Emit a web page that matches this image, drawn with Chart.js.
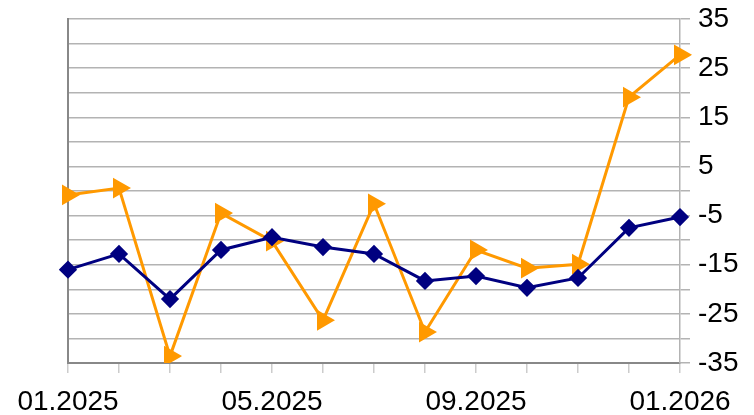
<!DOCTYPE html>
<html>
<head>
<meta charset="utf-8">
<script src="https://cdn.jsdelivr.net/npm/chart.js@4"></script>
<style>
  html, body { margin: 0; padding: 0; background: #fff; }
  #wrap { width: 754px; height: 415px; }
</style>
</head>
<body>
<div id="wrap"><canvas id="chart"></canvas></div>
<script>
const months = ['01.2025', '02.2025', '03.2025', '04.2025', '05.2025', '06.2025', '07.2025',
  '08.2025', '09.2025', '10.2025', '11.2025', '12.2025', '01.2026'];
const navySeries = [-16, -12.8, -22, -12, -9.4, -11.4, -12.8, -18.3, -17.3, -19.7, -17.7, -7.5, -5.3];
const orangeSeries = [-0.8, 0.6, -33.6, -4.5, -10.2, -26.3, -2.6, -28.7, -12, -15.7, -14.9, 19.1, 27.7];
const yLabels = [35, 25, 15, 5, -5, -15, -25, -35];

const font = { family: 'Liberation Sans', size: 28 };

new Chart(document.getElementById('chart'), {
  type: 'line',
  data: {
    labels: months,
    datasets: [
      {
        label: 'Series 1',
        data: navySeries,
        borderColor: '#000080',
        backgroundColor: '#000080',
        borderWidth: 3,
        pointStyle: 'rectRot',
        pointRadius: 7,
        pointHoverRadius: 7,
        tension: 0,
      },
      {
        label: 'Series 2',
        data: orangeSeries,
        borderColor: '#ff9900',
        backgroundColor: '#ff9900',
        borderWidth: 3,
        pointStyle: 'triangle',
        rotation: 90,
        pointRadius: 9,
        pointHoverRadius: 9,
        tension: 0,
      },
    ],
  },
  options: {
    responsive: true,
    maintainAspectRatio: false,
    animation: false,
    layout: { padding: { left: 68, top: 19, right: 0, bottom: 0 } },
    plugins: { legend: { display: false }, tooltip: { enabled: false } },
    scales: {
      x: {
        offset: false,
        grid: { drawOnChartArea: false, drawTicks: true, tickLength: 10, color: '#cccccc', lineWidth: 1.5 },
        border: { display: true, color: '#888888', width: 2 },
        ticks: {
          autoSkip: false,
          maxRotation: 0,
          color: '#000',
          font: font,
          padding: 12,
          callback: (v, i) => (i % 4 === 0 ? months[i] : ''),
        },
        afterFit: (s) => { s.height = 52; s.paddingLeft = 0; s.paddingRight = 0; },
      },
      y: {
        position: 'right',
        min: -35,
        max: 35,
        grid: { color: '#b3b3b3', lineWidth: 1.5, tickLength: 10 },
        border: { display: true, color: '#b3b3b3', width: 1.5 },
        ticks: {
          stepSize: 5,
          autoSkip: false,
          color: '#000',
          font: font,
          padding: 8,
          callback: (v) => (yLabels.includes(v) ? String(v) : ''),
        },
        afterFit: (s) => { s.width = 74; s.paddingTop = 0; s.paddingBottom = 0; },
      },
      yLeft: {
        position: 'left',
        min: -35,
        max: 35,
        grid: { drawOnChartArea: false, drawTicks: false },
        border: { display: true, color: '#888888', width: 2 },
        ticks: { display: false },
        afterFit: (s) => { s.width = 0; },
      },
    },
  },
});
</script>
</body>
</html>
